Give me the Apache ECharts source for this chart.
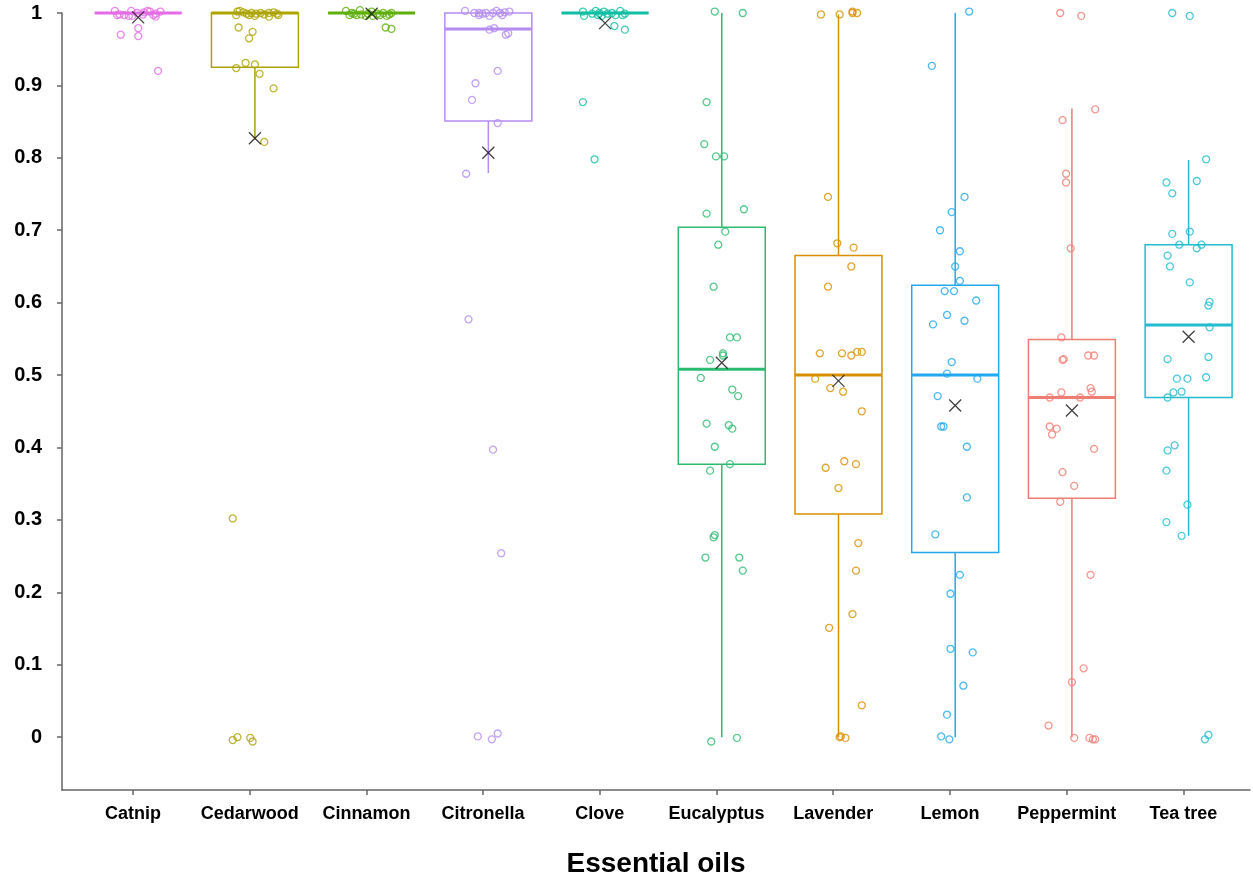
<!DOCTYPE html>
<html>
<head>
<meta charset="utf-8">
<script src="https://cdn.jsdelivr.net/npm/echarts@6/dist/echarts.min.js"></script>
<style>
html,body{margin:0;padding:0;background:#fff;}
#chart{width:1253px;height:876px;}
</style>
</head>
<body>
<div id="chart"></div>
<script>
// ---------- data ----------
const categories = ['Catnip','Cedarwood','Cinnamon','Citronella','Clove','Eucalyptus','Lavender','Lemon','Peppermint','Tea tree'];
const whiskerLow  = [1, 0.825, 1, 0.779, 1, 0,     0,     0,     0,     0.278];
const q1          = [1, 0.925, 1, 0.851, 1, 0.377, 0.308, 0.255, 0.330, 0.469];
const median      = [1, 1,     1, 0.978, 1, 0.508, 0.500, 0.500, 0.469, 0.569];
const q3          = [1, 1,     1, 1,     1, 0.704, 0.665, 0.624, 0.549, 0.680];
const whiskerHigh = [1, 1,     1, 1,     1, 1,     0.998, 1,     0.868, 0.797];
const means       = [0.994, 0.827, 0.999, 0.807, 0.986, 0.517, 0.492, 0.458, 0.451, 0.553];
const yTickValues = [0,0.1,0.2,0.3,0.4,0.5,0.6,0.7,0.8,0.9,1];
const yTickLabels = ['0','0.1','0.2','0.3','0.4','0.5','0.6','0.7','0.8','0.9','1'];

// points: [jitter (category units), value]
const catnipPts = [[-0.20,1.003],[-0.18,0.997],[-0.16,0.998],[-0.12,0.997],[-0.08,0.996],[-0.06,1.003],[-0.05,0.996],[-0.01,1.0],[0.04,0.998],[0.05,1.001],[0.08,1.003],[0.10,1.002],[0.13,0.997],[0.15,0.999],[0.15,0.995],[0.19,1.002],[-0.15,0.970],[0.00,0.979],[0.00,0.968],[0.17,0.920]];
const cedarwoodPts = [[-0.15,1.002],[-0.13,1.003],[-0.16,0.997],[-0.07,0.999],[-0.03,1.0],[0.0,0.996],[0.01,0.999],[0.05,1.0],[0.12,0.995],[0.12,1.0],[0.19,0.999],[0.20,0.997],[-0.10,1.001],[0.08,0.998],[0.16,1.001],[-0.05,0.997],[-0.14,0.980],[-0.02,0.974],[-0.05,0.965],[-0.16,0.924],[-0.08,0.931],[0.0,0.929],[0.04,0.916],[0.16,0.896],[0.08,0.822],[-0.19,0.302],[-0.19,-0.004],[-0.15,0.0],[-0.04,-0.001],[-0.02,-0.006]];
const cinnamonPts = [[-0.22,1.003],[-0.19,0.997],[-0.17,1.0],[-0.13,0.997],[-0.10,1.004],[-0.09,0.998],[-0.05,0.996],[0.0,1.002],[0.01,0.996],[0.05,0.999],[0.07,0.997],[0.10,1.0],[0.13,0.996],[0.15,0.998],[0.17,1.0],[-0.15,0.999],[-0.03,0.999],[0.12,0.980],[0.17,0.978]];
const citronellaPts = [[-0.20,1.003],[-0.12,1.0],[-0.08,1.0],[-0.08,0.997],[-0.02,1.0],[0.01,0.996],[0.04,1.0],[0.07,1.003],[0.10,1.0],[0.12,0.997],[0.18,1.002],[0.14,1.001],[-0.05,0.999],[0.01,0.977],[0.05,0.979],[0.15,0.970],[0.17,0.972],[0.08,0.920],[-0.11,0.903],[-0.14,0.880],[0.08,0.848],[-0.19,0.778],[-0.17,0.577],[0.04,0.397],[0.11,0.254],[-0.09,0.001],[0.03,-0.003],[0.08,0.005]];
const clovePts = [[-0.19,1.002],[-0.18,0.996],[-0.11,0.999],[-0.08,1.003],[-0.05,1.0],[-0.03,0.996],[-0.01,1.002],[0.02,0.999],[0.06,1.0],[0.09,0.997],[0.13,1.003],[0.15,0.997],[0.17,0.999],[-0.06,0.997],[0.08,0.982],[0.17,0.977],[-0.19,0.877],[-0.09,0.798]];
const eucalyptusPts = [[-0.06,1.002],[0.18,1.0],[-0.13,0.877],[-0.15,0.819],[-0.05,0.802],[0.02,0.802],[-0.13,0.723],[0.19,0.729],[0.03,0.698],[-0.03,0.680],[-0.07,0.622],[0.07,0.552],[0.13,0.552],[0.01,0.530],[0.01,0.527],[-0.10,0.521],[-0.18,0.496],[0.09,0.480],[0.14,0.471],[-0.13,0.433],[0.06,0.431],[0.09,0.426],[-0.06,0.401],[0.07,0.377],[-0.10,0.368],[-0.06,0.279],[-0.07,0.276],[-0.14,0.248],[0.15,0.248],[0.18,0.230],[-0.09,-0.006],[0.13,-0.001]];
const lavenderPts = [[-0.15,0.998],[0.01,0.998],[0.12,1.002],[0.12,1.0],[0.16,1.0],[-0.09,0.746],[-0.01,0.682],[0.13,0.676],[0.11,0.650],[-0.09,0.622],[-0.16,0.530],[0.03,0.530],[0.11,0.527],[0.16,0.532],[0.20,0.532],[-0.20,0.495],[-0.07,0.482],[0.04,0.477],[0.20,0.450],[0.05,0.381],[-0.11,0.372],[0.15,0.377],[0.0,0.344],[0.17,0.268],[0.15,0.230],[0.12,0.170],[-0.08,0.151],[0.20,0.044],[0.01,0.0],[0.02,0.001],[0.06,-0.001]];
const lemonPts = [[0.12,1.002],[-0.20,0.927],[0.08,0.746],[-0.03,0.725],[-0.13,0.700],[0.04,0.671],[0.0,0.650],[0.04,0.630],[-0.09,0.616],[-0.01,0.616],[0.18,0.603],[-0.07,0.583],[-0.19,0.570],[0.08,0.575],[-0.03,0.518],[-0.07,0.502],[0.19,0.495],[-0.15,0.471],[-0.12,0.429],[-0.10,0.429],[0.10,0.401],[0.10,0.331],[-0.17,0.280],[0.04,0.224],[-0.04,0.198],[-0.04,0.122],[0.15,0.117],[0.07,0.071],[-0.07,0.031],[-0.12,0.001],[-0.05,-0.003]];
const peppermintPts = [[-0.10,1.0],[0.08,0.996],[0.20,0.867],[-0.08,0.852],[-0.05,0.778],[-0.05,0.766],[-0.01,0.675],[-0.09,0.552],[-0.07,0.522],[-0.08,0.521],[0.14,0.527],[0.19,0.527],[0.16,0.482],[0.17,0.477],[-0.09,0.476],[-0.19,0.469],[0.07,0.469],[-0.19,0.429],[-0.13,0.426],[-0.17,0.418],[0.19,0.398],[-0.08,0.366],[0.02,0.347],[-0.10,0.325],[0.16,0.224],[0.10,0.095],[0.0,0.076],[-0.20,0.016],[0.02,-0.001],[0.15,-0.001],[0.18,-0.003],[0.20,-0.003]];
const teaTreePts = [[-0.14,1.0],[0.01,0.996],[0.15,0.798],[-0.19,0.766],[0.07,0.768],[-0.14,0.751],[-0.14,0.695],[0.01,0.698],[-0.08,0.680],[0.07,0.675],[0.11,0.680],[-0.18,0.665],[-0.16,0.650],[0.01,0.628],[0.18,0.601],[0.17,0.596],[0.18,0.566],[-0.18,0.522],[0.17,0.525],[-0.10,0.495],[-0.01,0.495],[0.15,0.497],[-0.06,0.477],[-0.13,0.476],[-0.18,0.469],[-0.12,0.403],[-0.18,0.396],[-0.19,0.368],[-0.01,0.321],[-0.19,0.297],[-0.06,0.278],[0.17,0.003],[0.14,-0.003]];
const pointSets = [catnipPts, cedarwoodPts, cinnamonPts, citronellaPts, clovePts, eucalyptusPts, lavenderPts, lemonPts, peppermintPts, teaTreePts];

// ---------- style ----------
const colors = ['#E56BE6','#ADA400','#5FAF0A','#B48CF2','#10BFA3','#2DBB70','#D89000','#22A8EE','#F07D74','#22BCD0'];
const BOX_SHIFT = 0.045;
const BOX_W = 0.745;
const FONT = '"Liberation Sans", Arial, sans-serif';

const chart = echarts.init(document.getElementById('chart'), null, {renderer: 'canvas'});

function renderBox(params, api) {
  const i = params.dataIndex;
  const x = api.value(0);
  const p = k => api.coord([x, api.value(k)]);
  const lo = p(1), b1 = p(2), md = p(3), b3 = p(4), hi = p(5);
  const w = api.size([BOX_W, 0])[0];
  const c = colors[i];
  return {
    type: 'group',
    children: [
      {type: 'line', shape: {x1: lo[0], y1: lo[1], x2: b1[0], y2: b1[1]}, style: {stroke: c, lineWidth: 1.5}},
      {type: 'line', shape: {x1: b3[0], y1: b3[1], x2: hi[0], y2: hi[1]}, style: {stroke: c, lineWidth: 1.5}},
      {type: 'rect', shape: {x: md[0] - w / 2, y: b3[1], width: w, height: b1[1] - b3[1]}, style: {fill: 'none', stroke: c, lineWidth: 1.5}},
      {type: 'line', shape: {x1: md[0] - w / 2, y1: md[1], x2: md[0] + w / 2, y2: md[1]}, style: {stroke: c, lineWidth: 3}}
    ]
  };
}

const series = [];
series.push({
  type: 'custom',
  renderItem: renderBox,
  clip: false,
  z: 2,
  encode: {x: 0, y: [1, 2, 3, 4, 5]},
  data: categories.map((_, i) => [i + BOX_SHIFT, whiskerLow[i], q1[i], median[i], q3[i], whiskerHigh[i]])
});
pointSets.forEach((pts, i) => {
  series.push({
    type: 'scatter',
    name: categories[i],
    clip: false,
    z: 3,
    symbol: 'circle',
    symbolSize: 7,
    itemStyle: {color: 'rgba(0,0,0,0)', borderColor: colors[i], borderWidth: 1.3},
    emphasis: {disabled: true},
    data: pts.map(d => [i + BOX_SHIFT + d[0], d[1]])
  });
});
series.push({
  type: 'scatter',
  clip: false,
  z: 4,
  symbol: 'path://M0,0L10,10M10,0L0,10',
  symbolSize: 12,
  itemStyle: {color: 'none', borderColor: '#111', borderWidth: 1.3},
  emphasis: {disabled: true},
  data: means.map((m, i) => [i + BOX_SHIFT, m])
});

chart.setOption({
  animation: false,
  backgroundColor: '#fff',
  grid: {left: 62, right: 3, top: 13, bottom: 86, containLabel: false, outerBoundsMode: 'none'},
  xAxis: {
    type: 'value',
    min: -0.608,
    max: 9.571,
    name: 'Essential oils',
    nameLocation: 'middle',
    nameGap: 60,
    nameTextStyle: {fontFamily: FONT, fontWeight: 'bold', fontSize: 28, color: '#000'},
    splitLine: {show: false},
    axisLine: {show: true, onZero: false, lineStyle: {color: '#666', width: 1.5}},
    axisTick: {show: true, inside: false, length: 5, lineStyle: {color: '#666', width: 1.5}, customValues: categories.map((_, i) => i)},
    axisLabel: {
      show: true, margin: 15,
      fontFamily: FONT, fontWeight: 'bold', fontSize: 18, color: '#000',
      customValues: categories.map((_, i) => i),
      formatter: v => categories[Math.round(v)] || ''
    }
  },
  yAxis: {
    type: 'value',
    min: -0.073,
    max: 1,
    splitLine: {show: false},
    axisLine: {show: true, onZero: false, lineStyle: {color: '#666', width: 1.5}},
    axisTick: {show: true, inside: false, length: 5, lineStyle: {color: '#666', width: 1.5}, customValues: yTickValues},
    axisLabel: {
      show: true, margin: 20,
      fontFamily: FONT, fontWeight: 'bold', fontSize: 20, color: '#000',
      customValues: yTickValues,
      formatter: v => {
        const k = yTickValues.findIndex(t => Math.abs(t - v) < 1e-6);
        return k >= 0 ? yTickLabels[k] : '';
      }
    }
  },
  series: series
});
</script>
</body>
</html>
